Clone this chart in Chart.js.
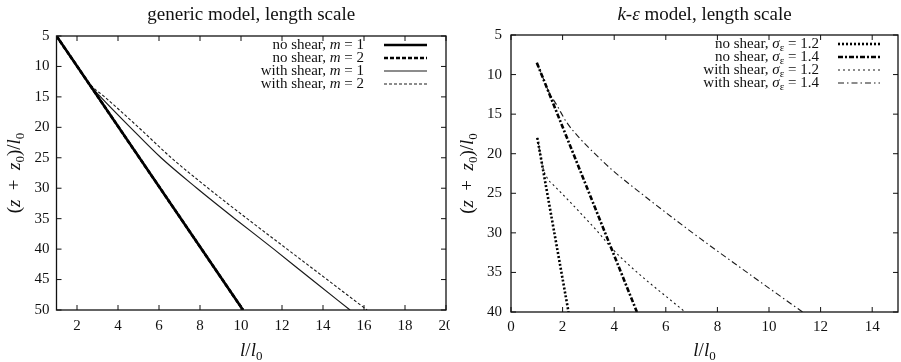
<!DOCTYPE html>
<html>
<head>
<meta charset="utf-8">
<script src="https://cdn.jsdelivr.net/npm/chart.js@4.4.1/dist/chart.umd.min.js"></script>
<style>
  html, body { margin: 0; padding: 0; background: #fff; }
  .box { position: absolute; top: 0; height: 362px; }
  #leftBox { left: 0; width: 450px; }
  #rightBox { left: 450px; width: 451px; }
</style>
</head>
<body>
<div class="box" id="leftBox"><canvas id="genericChart"></canvas></div>
<div class="box" id="rightBox"><canvas id="keChart"></canvas></div>
<script>
// ---- data: generic model (x = l/l0, y = (z+z0)/l0) ----
const genericXTicks = [2, 4, 6, 8, 10, 12, 14, 16, 18, 20];
const genericYTicks = [5, 10, 15, 20, 25, 30, 35, 40, 45, 50];
const genericLabels = ['no shear, *m* = 1', 'no shear, *m* = 2', 'with shear, *m* = 1', 'with shear, *m* = 2'];
const noShearDepth = [5, 50];
const noShearM1 = [1, 10.1];
const noShearM2 = [1, 10.1];
const shearDepth = [5, 10, 13, 15, 20, 25, 30, 35, 40, 45, 50];
const withShearM1 = [1, 2.01, 2.62, 3.15, 4.6, 6.1, 7.85, 9.7, 11.6, 13.45, 15.32];
const withShearM2 = [1, 2.01, 2.65, 3.35, 5.0, 6.6, 8.4, 10.3, 12.25, 14.2, 16.15];

// ---- data: k-epsilon model ----
const keXTicks = [0, 2, 4, 6, 8, 10, 12, 14];
const keYTicks = [5, 10, 15, 20, 25, 30, 35, 40];
const keLabels = ['no shear, *σ*_ε = 1.2', 'no shear, *σ*_ε = 1.4', 'with shear, *σ*_ε = 1.2', 'with shear, *σ*_ε = 1.4'];
const noShear12Depth = [18, 40];
const noShear12 = [1.02, 2.23];
const noShear14Depth = [8.5, 40];
const noShear14 = [1.0, 4.88];
const shear12Depth = [18, 20, 22, 23.3, 24, 26, 28, 30, 32, 34, 36, 38, 40];
const withShear12 = [1.02, 1.13, 1.26, 1.45, 1.66, 2.26, 2.84, 3.4, 3.92, 4.55, 5.25, 6.0, 6.75];
const shear14Depth = [8.5, 10, 12, 14, 16, 18, 20, 22, 25, 30, 35, 40];
const withShear14 = [1.0, 1.19, 1.44, 1.8, 2.15, 2.65, 3.25, 3.9, 5.04, 7.04, 9.15, 11.3];

const SERIF = '"Liberation Serif", "DejaVu Serif", serif';
const INK = '#111';

function pts(xs, ys) {
  return xs.map((x, i) => ({ x: x, y: ys[i] }));
}

// tiny markup: *x* italic, _c subscript char
function parseRich(s) {
  const out = [];
  let buf = '', italic = false;
  for (let i = 0; i < s.length; i++) {
    const c = s[i];
    if (c === '*') {
      if (buf) out.push({ t: buf, it: italic });
      buf = '';
      italic = !italic;
    } else if (c === '_') {
      if (buf) out.push({ t: buf, it: italic });
      buf = '';
      out.push({ t: s[i + 1], it: false, sub: true });
      i++;
    } else {
      buf += c;
    }
  }
  if (buf) out.push({ t: buf, it: italic });
  return out;
}

function fontFor(p, size) {
  const sz = p.sub ? Math.round(size * 0.7) : size;
  return (p.it ? 'italic ' : '') + sz + 'px ' + SERIF;
}

function drawRich(ctx, s, x, y, size, align) {
  const parts = parseRich(s);
  let total = 0;
  parts.forEach((p) => {
    ctx.font = fontFor(p, size);
    p.w = ctx.measureText(p.t).width;
    total += p.w;
  });
  let cx = align === 'right' ? x - total : align === 'center' ? x - total / 2 : x;
  ctx.textAlign = 'left';
  ctx.textBaseline = 'middle';
  ctx.fillStyle = INK;
  parts.forEach((p) => {
    ctx.font = fontFor(p, size);
    ctx.fillText(p.t, cx, p.sub ? y + size * 0.28 : y);
    cx += p.w;
  });
}

function seg(ctx, x1, y1, x2, y2) {
  ctx.beginPath();
  ctx.moveTo(x1, y1);
  ctx.lineTo(x2, y2);
  ctx.stroke();
}

const decorPlugin = {
  id: 'decor',
  afterDraw(chart, args, o) {
    const { ctx, chartArea: a } = chart;
    const xs = chart.scales.x, ys = chart.scales.y;
    ctx.save();
    // frame and inward ticks
    ctx.strokeStyle = INK;
    ctx.lineWidth = 1.3;
    ctx.strokeRect(a.left, a.top, a.right - a.left, a.bottom - a.top);
    ctx.lineWidth = 1;
    xs.ticks.forEach((t) => {
      const px = xs.getPixelForValue(t.value);
      seg(ctx, px, a.bottom, px, a.bottom - 5);
      seg(ctx, px, a.top, px, a.top + 5);
    });
    ys.ticks.forEach((t) => {
      const py = ys.getPixelForValue(t.value);
      seg(ctx, a.left, py, a.left + 5, py);
      seg(ctx, a.right, py, a.right - 5, py);
    });
    // titles
    const mid = (a.left + a.right) / 2;
    drawRich(ctx, o.title, mid, 15, 19, 'center');
    drawRich(ctx, o.xTitle, mid, 351, 19, 'center');
    ctx.save();
    ctx.translate(o.yTitleX, (a.top + a.bottom) / 2);
    ctx.rotate(-Math.PI / 2);
    drawRich(ctx, o.yTitle, 0, 0, 19, 'center');
    ctx.restore();
    // legend
    chart.data.datasets.forEach((ds, i) => {
      const y = a.top + o.legendTop + i * o.legendGap;
      drawRich(ctx, ds.label, a.right - o.textRight, y, 15, 'right');
      ctx.save();
      ctx.strokeStyle = ds.borderColor;
      ctx.lineWidth = ds.borderWidth;
      ctx.setLineDash(ds.borderDash || []);
      seg(ctx, a.right - o.sampleFrom, y, a.right - o.sampleTo, y);
      ctx.restore();
    });
    ctx.restore();
  },
};

function makeDataset(label, data, width, dash, smooth) {
  return {
    label: label,
    data: data,
    borderColor: width > 2 ? '#000' : '#1a1a1a',
    borderWidth: width,
    borderDash: dash,
    borderCapStyle: 'butt',
    pointRadius: 0,
    fill: false,
    cubicInterpolationMode: smooth ? 'monotone' : 'default',
  };
}

function axisOptions(min, max, tickList, size, padding, reverse, horizontal) {
  return {
    type: 'linear',
    min: min,
    max: max,
    reverse: reverse,
    grid: { display: false, drawTicks: false },
    border: { display: false },
    ticks: { color: INK, padding: padding, font: { family: SERIF, size: 15 } },
    afterBuildTicks: (s) => {
      s.ticks = tickList.map((v) => ({ value: v }));
    },
    afterFit: (s) => {
      if (horizontal) {
        s.height = size;
        s.paddingLeft = 0;
        s.paddingRight = 0;
      } else {
        s.width = size;
        s.paddingTop = 0;
        s.paddingBottom = 0;
      }
    },
  };
}

function baseOptions(cfg) {
  return {
    responsive: true,
    maintainAspectRatio: false,
    animation: false,
    layout: { padding: cfg.padding },
    plugins: {
      legend: { display: false },
      title: { display: false },
      tooltip: { enabled: false },
      decor: cfg.decor,
    },
    scales: {
      x: axisOptions(cfg.xMin, cfg.xMax, cfg.xTicks, cfg.xHeight, cfg.xPad, false, true),
      y: axisOptions(cfg.yMin, cfg.yMax, cfg.yTicks, cfg.yWidth, cfg.yPad, true, false),
    },
  };
}

new Chart(document.getElementById('genericChart'), {
  type: 'line',
  data: {
    datasets: [
      makeDataset(genericLabels[0], pts(noShearM1, noShearDepth), 2.6, [], false),
      makeDataset(genericLabels[1], pts(noShearM2, noShearDepth), 2.6, [4, 2], false),
      makeDataset(genericLabels[2], pts(withShearM1, shearDepth), 1.2, [], true),
      makeDataset(genericLabels[3], pts(withShearM2, shearDepth), 1.1, [3, 2], true),
    ],
  },
  options: baseOptions({
    padding: { top: 36, right: 4, bottom: 0, left: 0 },
    xMin: 1, xMax: 20, xTicks: genericXTicks, xHeight: 52, xPad: 7,
    yMin: 5, yMax: 50, yTicks: genericYTicks, yWidth: 56.5, yPad: 7,
    decor: {
      title: 'generic model, length scale',
      xTitle: '*l*/*l*_0',
      yTitle: '(*z*  +  *z*_0)/*l*_0',
      yTitleX: 15,
      legendTop: 9, legendGap: 13,
      textRight: 82, sampleFrom: 62, sampleTo: 19,
    },
  }),
  plugins: [decorPlugin],
});

new Chart(document.getElementById('keChart'), {
  type: 'line',
  data: {
    datasets: [
      makeDataset(keLabels[0], pts(noShear12, noShear12Depth), 2.6, [2, 2], false),
      makeDataset(keLabels[1], pts(noShear14, noShear14Depth), 2.6, [5, 2, 2, 2], false),
      makeDataset(keLabels[2], pts(withShear12, shear12Depth), 1.1, [2, 3], true),
      makeDataset(keLabels[3], pts(withShear14, shear14Depth), 1.1, [6, 3, 1.5, 3], true),
    ],
  },
  options: baseOptions({
    padding: { top: 35, right: 3, bottom: 0, left: 0 },
    xMin: 0, xMax: 15, xTicks: keXTicks, xHeight: 50, xPad: 6,
    yMin: 5, yMax: 40, yTicks: keYTicks, yWidth: 61, yPad: 9,
    decor: {
      title: '*k*-*ε* model, length scale',
      xTitle: '*l*/*l*_0',
      yTitle: '(*z*  +  *z*_0)/*l*_0',
      yTitleX: 18,
      legendTop: 9, legendGap: 13,
      textRight: 79, sampleFrom: 60, sampleTo: 18,
    },
  }),
  plugins: [decorPlugin],
});
</script>
</body>
</html>
